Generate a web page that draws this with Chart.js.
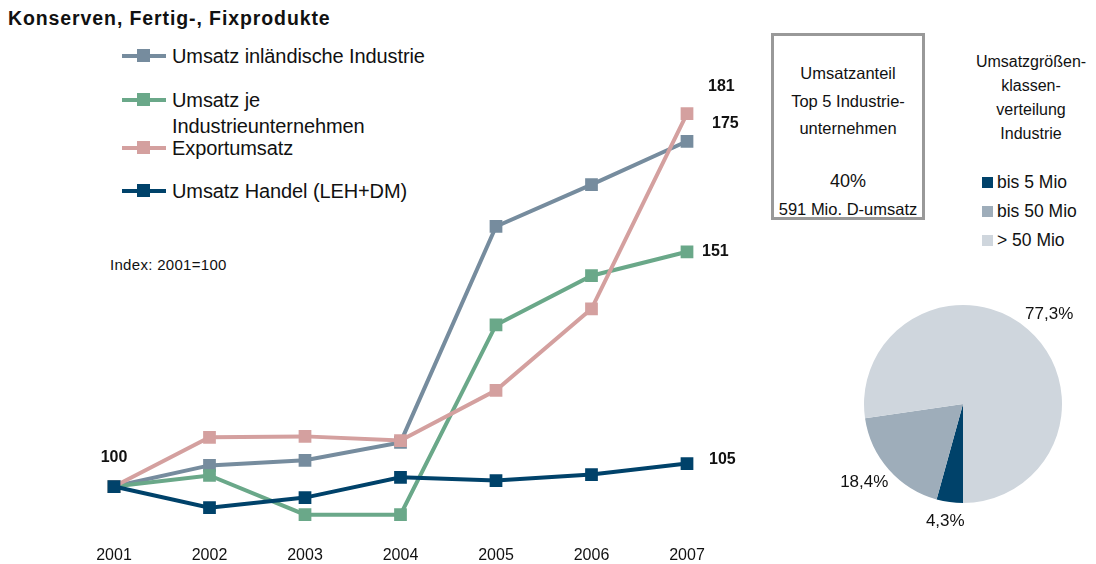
<!DOCTYPE html>
<html>
<head>
<meta charset="utf-8">
<script src="https://cdn.jsdelivr.net/npm/chart.js@4.4.1/dist/chart.umd.min.js"></script>
<style>
  body { margin: 0; width: 1096px; height: 564px; background: #fff; position: relative; overflow: hidden;
         font-family: "Liberation Sans", Arial, sans-serif; color: #111; }
  .abs { position: absolute; }
  #title { left: 8px; top: 7px; font-size: 19.5px; font-weight: bold; letter-spacing: 0.9px; }
  #legend .item { position: absolute; left: 122px; font-size: 20px; line-height: 26px; letter-spacing: -0.1px; }
  #legend .mark { position: absolute; left: 0; width: 44px; height: 4px; }
  #legend .mark span { position: absolute; left: 15px; top: -5px; width: 13px; height: 13px; }
  #legend .txt { position: absolute; left: 50px; white-space: nowrap; }
  #index { left: 110px; top: 256px; font-size: 15px; letter-spacing: 0.3px; }
  #box { left: 771px; top: 33px; width: 148px; height: 181px; border: 3px solid #999;
         text-align: center; font-size: 16.5px; }
  #box div { position: absolute; left: -4px; right: -4px; white-space: nowrap; }
  #piehead { left: 965px; top: 50px; width: 132px; text-align: center; font-size: 16px; line-height: 24px; }
  #pielegend .row { position: absolute; left: 982px; font-size: 17.5px; }
  #pielegend .sq { position: absolute; left: 0; top: 5px; width: 11px; height: 11px; }
  #pielegend .lbl { position: absolute; left: 15px; white-space: nowrap; }
</style>
</head>
<body>
<div id="title" class="abs">Konserven, Fertig-, Fixprodukte</div>
<div id="legend"></div>
<div id="index" class="abs">Index: 2001=100</div>
<div id="box" class="abs">
  <div style="top:28px;">Umsatzanteil</div>
  <div style="top:56px;">Top 5 Industrie-</div>
  <div style="top:83px;">unternehmen</div>
  <div style="top:135px;font-size:18px;">40%</div>
  <div style="top:164px;">591 Mio. D-umsatz</div>
</div>
<div id="piehead" class="abs">Umsatzgrößen-<br>klassen-<br>verteilung<br>Industrie</div>
<div id="pielegend"></div>

<canvas id="lineChart" class="abs" width="760" height="572" style="left:0;top:0;"></canvas>
<canvas id="pieChart" class="abs" width="276" height="260" style="left:820px;top:280px;"></canvas>

<script>
// categories
const years = ['2001', '2002', '2003', '2004', '2005', '2006', '2007'];

// series values (Index: 2001=100)
const umsatzIndustrie = [100, 104.6, 105.7, 109.6, 156.5, 165.6, 175];
const umsatzJeUnternehmen = [100, 102.4, 93.9, 93.9, 135.1, 145.8, 151];
const exportUmsatz = [100, 110.7, 110.9, 110.0, 120.9, 138.6, 181];
const umsatzHandel = [100, 95.4, 97.6, 102.0, 101.3, 102.6, 105];

const seriesNames = ['Umsatz inländische Industrie', 'Umsatz je Industrieunternehmen', 'Exportumsatz', 'Umsatz Handel (LEH+DM)'];
const seriesColors = ['#768c9e', '#6aa889', '#d4a09f', '#00426a'];

// pie
const pieLabels = ['bis 5 Mio', 'bis 50 Mio', '> 50 Mio'];
const pieValues = [4.3, 18.4, 77.3];
const pieColors = ['#00426a', '#9eadba', '#cfd6dd'];

// legend (built from the series)
const legendTops = [43, 87, 135, 178];
const legendEl = document.getElementById('legend');
seriesNames.forEach((name, i) => {
    const item = document.createElement('div');
    item.className = 'item';
    item.style.top = legendTops[i] + 'px';
    const txt = i === 1 ? 'Umsatz je<br>Industrieunternehmen' : name;
    item.innerHTML = '<div class="mark" style="top:11px;background:' + seriesColors[i] + '"><span style="background:' + seriesColors[i] + '"></span></div>' +
        '<div class="txt">' + txt + '</div>';
    legendEl.appendChild(item);
});

const pieLegendEl = document.getElementById('pielegend');
pieLabels.forEach((name, i) => {
    const row = document.createElement('div');
    row.className = 'row';
    row.style.top = (172 + i * 29) + 'px';
    row.innerHTML = '<div class="sq" style="background:' + pieColors[i] + '"></div><div class="lbl">' + name + '</div>';
    pieLegendEl.appendChild(row);
});

// value labels next to the line ends
const endLabelOffsets = [[25, -18], [15, 0], [21, -27], [22, -4]];
const lineLabels = {
    id: 'lineLabels',
    afterDatasetsDraw(chart) {
        const ctx = chart.ctx;
        ctx.save();
        ctx.font = 'bold 16px "Liberation Sans", Arial, sans-serif';
        ctx.fillStyle = '#111';
        ctx.textBaseline = 'middle';
        chart.data.datasets.forEach((ds, i) => {
            const pts = chart.getDatasetMeta(i).data;
            const last = pts[pts.length - 1];
            ctx.textAlign = 'left';
            ctx.fillText(Math.round(ds.data[ds.data.length - 1]), last.x + endLabelOffsets[i][0], last.y + endLabelOffsets[i][1]);
        });
        const first = chart.getDatasetMeta(3).data[0];
        ctx.textAlign = 'center';
        ctx.fillText(Math.round(chart.data.datasets[3].data[0]), first.x, first.y - 29);
        ctx.restore();
    }
};

const allSeries = [umsatzIndustrie, umsatzJeUnternehmen, exportUmsatz, umsatzHandel];
const drawOrder = [3, 2, 1, 0];
new Chart(document.getElementById('lineChart').getContext('2d'), {
    type: 'line',
    data: {
        labels: years,
        datasets: allSeries.map((values, i) => ({
            label: seriesNames[i],
            data: values,
            borderColor: seriesColors[i],
            backgroundColor: seriesColors[i],
            borderWidth: 4,
            pointStyle: 'rect',
            pointRadius: 9,
            pointBorderWidth: 0,
            tension: 0,
            order: drawOrder[i]
        }))
    },
    options: {
        responsive: false,
        animation: false,
        layout: { padding: { left: 114, right: 73, top: 40, bottom: 3 } },
        plugins: { legend: { display: false }, tooltip: { enabled: false } },
        scales: {
            x: {
                offset: false,
                grid: { display: false, drawTicks: false },
                border: { display: false },
                ticks: { color: '#111', font: { size: 16, family: '"Liberation Sans", Arial, sans-serif' }, padding: 4 }
            },
            y: { display: false, min: 88, max: 197 }
        }
    },
    plugins: [lineLabels]
});

// percent labels outside the pie slices
const pieValueLabels = {
    id: 'pieValueLabels',
    afterDatasetsDraw(chart) {
        const ctx = chart.ctx;
        ctx.save();
        ctx.font = '17px "Liberation Sans", Arial, sans-serif';
        ctx.fillStyle = '#111';
        ctx.textAlign = 'center';
        ctx.textBaseline = 'middle';
        chart.getDatasetMeta(0).data.forEach((arc, i) => {
            const p = arc.getProps(['x', 'y', 'startAngle', 'endAngle', 'outerRadius'], true);
            const mid = (p.startAngle + p.endAngle) / 2;
            const rx = p.outerRadius * 1.33;
            const ry = p.outerRadius * 1.2;
            ctx.fillText(pieValues[i].toFixed(1).replace('.', ',') + '%', p.x + Math.cos(mid) * rx, p.y + Math.sin(mid) * ry);
        });
        ctx.restore();
    }
};

new Chart(document.getElementById('pieChart').getContext('2d'), {
    type: 'pie',
    data: {
        labels: pieLabels,
        datasets: [{ data: pieValues, backgroundColor: pieColors, borderWidth: 0 }]
    },
    options: {
        responsive: false,
        animation: false,
        rotation: 180,
        layout: { padding: { left: 44, right: 34, top: 25, bottom: 37 } },
        plugins: { legend: { display: false }, tooltip: { enabled: false } }
    },
    plugins: [pieValueLabels]
});
</script>
</body>
</html>
